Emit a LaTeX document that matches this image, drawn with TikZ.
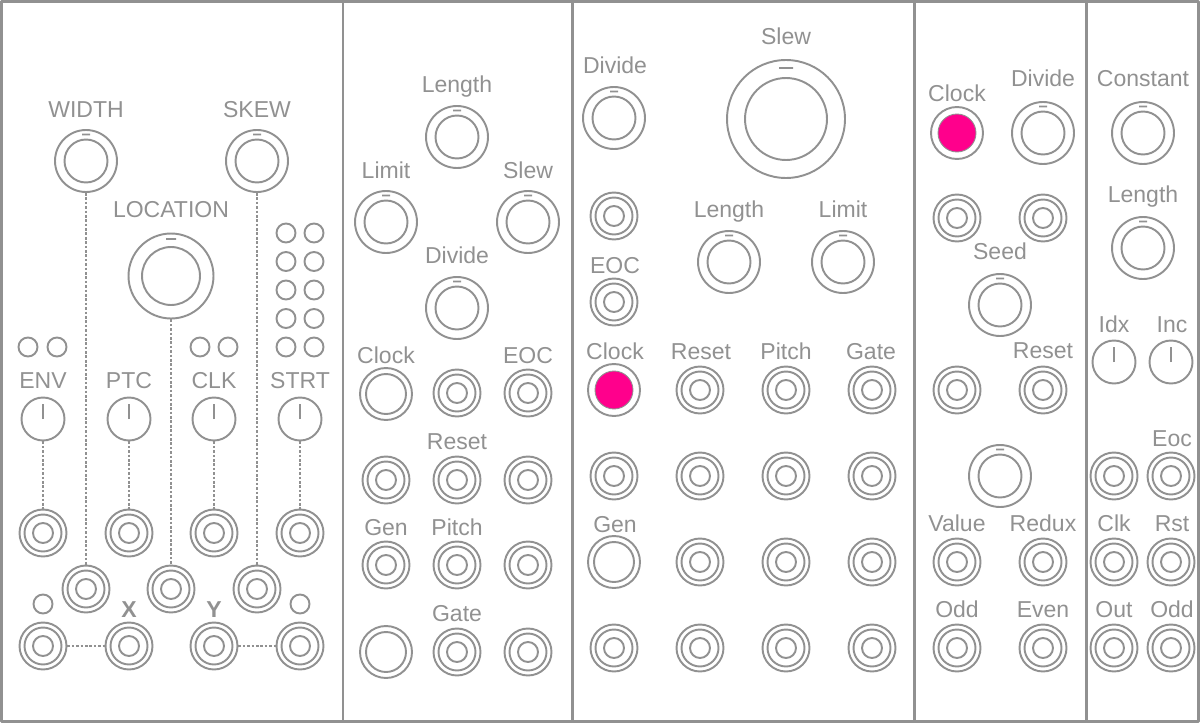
\documentclass[tikz,border=0pt]{standalone}
\usepackage{fontspec}
\setmainfont{Liberation Sans}
\usepackage{xcolor}
\usepackage{tikz}
\definecolor{pgray}{RGB}{145,145,145}
\definecolor{hotpink}{RGB}{255,0,140}
\newcommand{\lblfont}{\fontsize{13.1}{15}\selectfont}

\begin{document}
\begin{tikzpicture}[x=0.02cm,y=-0.02cm,line join=round,
  every node/.style={inner sep=0pt},
  panel/.style={draw=pgray,line width=1.7pt},
  lbl/.style={text=pgray,font=\lblfont,anchor=base},
  wire/.style={draw=pgray,line width=0.7pt,dash pattern=on 1.5pt off 1pt},
  jack/.style={circle,draw=pgray,line width=1.1pt,minimum size=0.94cm,
    path picture={\draw[pgray,line width=1.1pt] (path picture bounding box.center) circle (0.37cm) circle (0.2cm);}},
  port/.style={circle,draw=pgray,line width=1.1pt,minimum size=1.04cm,
    path picture={\draw[pgray,line width=1.1pt] (path picture bounding box.center) circle (0.4cm);}},
  lit/.style={circle,draw=pgray,line width=1.1pt,minimum size=1.04cm,
    path picture={\filldraw[fill=hotpink,draw=pgray,line width=0.5pt] (path picture bounding box.center) circle (0.38cm);}},
  knob/.style={circle,draw=pgray,line width=1.1pt,minimum size=1.24cm,
    path picture={\draw[pgray,line width=1.1pt] (path picture bounding box.center) circle (0.43cm)
      ++(-0.08cm,0.53cm) -- ++(0.16cm,0);}},
  bigknob/.style={circle,draw=pgray,line width=1.1pt,minimum size=1.7cm,
    path picture={\draw[pgray,line width=1.1pt] (path picture bounding box.center) circle (0.58cm)
      ++(-0.1cm,0.74cm) -- ++(0.2cm,0);}},
  hugeknob/.style={circle,draw=pgray,line width=1.1pt,minimum size=2.36cm,
    path picture={\draw[pgray,line width=1.1pt] (path picture bounding box.center) circle (0.82cm)
      ++(-0.14cm,1.02cm) -- ++(0.28cm,0);}},
  trim/.style={circle,draw=pgray,line width=1.1pt,minimum size=0.86cm,
    path picture={\draw[pgray,line width=1.1pt] (path picture bounding box.center) -- ++(0,0.3cm);}},
  led/.style={circle,draw=pgray,line width=1.1pt,minimum size=0.38cm}]
  \useasboundingbox (0,0) rectangle (1200,723);
  % module frames
  \draw[panel] (1.5,1.5) rectangle (343,721.5);
  \draw[panel] (343,1.5) rectangle (572,721.5);
  \draw[panel] (572,1.5) rectangle (914,721.5);
  \draw[panel] (914,1.5) rectangle (1086,721.5);
  \draw[panel] (1086,1.5) rectangle (1198.5,721.5);
  % module 1
  \node[lbl] (tWidth) at (86,117) {WIDTH};
  \node[lbl] (tSkew) at (257,117) {SKEW};
  \node[lbl] (tLocation) at (171,217) {LOCATION};
  \node[knob] (kWidth) at (86,161) {};
  \node[knob] (kSkew) at (257,161) {};
  \node[bigknob] (kLocation) at (171,276) {};
  \node[led] (lEnvA) at (28,347) {};
  \node[led] (lEnvB) at (57,347) {};
  \node[led] (lClkA) at (200,347) {};
  \node[led] (lClkB) at (228,347) {};
  \node[led] (lGridA1) at (286,233) {};
  \node[led] (lGridB1) at (314,233) {};
  \node[led] (lGridA2) at (286,261.5) {};
  \node[led] (lGridB2) at (314,261.5) {};
  \node[led] (lGridA3) at (286,290) {};
  \node[led] (lGridB3) at (314,290) {};
  \node[led] (lGridA4) at (286,318.5) {};
  \node[led] (lGridB4) at (314,318.5) {};
  \node[led] (lGridA5) at (286,347) {};
  \node[led] (lGridB5) at (314,347) {};
  \node[lbl] (tEnv) at (43,388) {ENV};
  \node[lbl] (tPtc) at (129,388) {PTC};
  \node[lbl] (tClk) at (214,388) {CLK};
  \node[lbl] (tStrt) at (300,388) {STRT};
  \node[trim] (tpEnv) at (43,419) {};
  \node[trim] (tpPtc) at (129,419) {};
  \node[trim] (tpClk) at (214,419) {};
  \node[trim] (tpStrt) at (300,419) {};
  \node[jack] (jEnv) at (43,533) {};
  \node[jack] (jPtc) at (129,533) {};
  \node[jack] (jClk) at (214,533) {};
  \node[jack] (jStrt) at (300,533) {};
  \node[jack] (jWidth) at (86,589) {};
  \node[jack] (jLocation) at (171,589) {};
  \node[jack] (jSkew) at (257,589) {};
  \node[led] (lX) at (43,604) {};
  \node[led] (lY) at (300,604) {};
  \node[lbl,font=\lblfont\bfseries] (tX) at (129,617) {X};
  \node[lbl,font=\lblfont\bfseries] (tY) at (214,617) {Y};
  \node[jack] (jXa) at (43,646) {};
  \node[jack] (jXb) at (129,646) {};
  \node[jack] (jYa) at (214,646) {};
  \node[jack] (jYb) at (300,646) {};
  \draw[wire] (kWidth) -- (jWidth);
  \draw[wire] (kLocation) -- (jLocation);
  \draw[wire] (kSkew) -- (jSkew);
  \draw[wire] (tpEnv) -- (jEnv);
  \draw[wire] (tpPtc) -- (jPtc);
  \draw[wire] (tpClk) -- (jClk);
  \draw[wire] (tpStrt) -- (jStrt);
  \draw[wire] (jXa) -- (jXb);
  \draw[wire] (jYa) -- (jYb);
  % module 2
  \node[lbl] (tLengthB) at (457,92) {Length};
  \node[lbl] (tLimitB) at (386,178) {Limit};
  \node[lbl] (tSlewB) at (528,178) {Slew};
  \node[lbl] (tDivideB) at (457,263) {Divide};
  \node[lbl] (tClockB) at (386,363) {Clock};
  \node[lbl] (tEocB) at (528,363) {EOC};
  \node[lbl] (tResetB) at (457,449) {Reset};
  \node[lbl] (tGenB) at (386,535) {Gen};
  \node[lbl] (tPitchB) at (457,535) {Pitch};
  \node[lbl] (tGateB) at (457,621) {Gate};
  \node[knob] (kLengthB) at (457,137) {};
  \node[knob] (kLimitB) at (386,222) {};
  \node[knob] (kSlewB) at (528,222) {};
  \node[knob] (kDivideB) at (457,308) {};
  \node[port] (pClockB) at (386,394) {};
  \node[jack] (jB12) at (457,393) {};
  \node[jack] (jEocB) at (528,393) {};
  \node[jack] (jB21) at (386,480) {};
  \node[jack] (jResetB) at (457,480) {};
  \node[jack] (jB23) at (528,480) {};
  \node[jack] (jGenB) at (386,565) {};
  \node[jack] (jPitchB) at (457,565) {};
  \node[jack] (jB33) at (528,565) {};
  \node[port] (pB41) at (386,652) {};
  \node[jack] (jGateB) at (457,652) {};
  \node[jack] (jB43) at (528,652) {};
  % module 3
  \node[lbl] (tSlewC) at (786,45) {Slew};
  \node[lbl] (tDivideC) at (615,74) {Divide};
  \node[lbl] (tLengthC) at (729,217) {Length};
  \node[lbl] (tLimitC) at (843,217) {Limit};
  \node[lbl] (tEocC) at (615,273) {EOC};
  \node[lbl] (tClockC) at (615,359) {Clock};
  \node[lbl] (tResetC) at (701,359) {Reset};
  \node[lbl] (tPitchC) at (786,359) {Pitch};
  \node[lbl] (tGateC) at (871,359) {Gate};
  \node[lbl] (tGenC) at (615,532) {Gen};
  \node[knob] (kDivideC) at (614,118) {};
  \node[hugeknob] (kSlewC) at (786,119) {};
  \node[knob] (kLengthC) at (729,262) {};
  \node[knob] (kLimitC) at (843,262) {};
  \node[jack] (jC0) at (614,216) {};
  \node[jack] (jEocC) at (614,302) {};
  \node[lit] (pClockC) at (614,390) {};
  \node[jack] (jResetC) at (700,390) {};
  \node[jack] (jPitchC) at (786,390) {};
  \node[jack] (jGateC) at (872,390) {};
  \node[jack] (jC21) at (614,476) {};
  \node[jack] (jC22) at (700,476) {};
  \node[jack] (jC23) at (786,476) {};
  \node[jack] (jC24) at (872,476) {};
  \node[port] (pGenC) at (614,562) {};
  \node[jack] (jC32) at (700,562) {};
  \node[jack] (jC33) at (786,562) {};
  \node[jack] (jC34) at (872,562) {};
  \node[jack] (jC41) at (614,648) {};
  \node[jack] (jC42) at (700,648) {};
  \node[jack] (jC43) at (786,648) {};
  \node[jack] (jC44) at (872,648) {};
  % module 4
  \node[lbl] (tClockD) at (957,102) {Clock};
  \node[lbl] (tDivideD) at (1043,87) {Divide};
  \node[lbl] (tSeedD) at (1000,259) {Seed};
  \node[lbl] (tResetD) at (1043,358) {Reset};
  \node[lbl] (tValueD) at (957,531) {Value};
  \node[lbl] (tReduxD) at (1043,531) {Redux};
  \node[lbl] (tOddD) at (957,617) {Odd};
  \node[lbl] (tEvenD) at (1043,617) {Even};
  \node[lit] (pClockD) at (957,133) {};
  \node[knob] (kDivideD) at (1043,133) {};
  \node[jack] (jD1) at (957,218) {};
  \node[jack] (jD2) at (1043,218) {};
  \node[knob] (kSeedD) at (1000,305) {};
  \node[jack] (jD3) at (957,390) {};
  \node[jack] (jResetD) at (1043,390) {};
  \node[knob] (kD) at (1000,476) {};
  \node[jack] (jValueD) at (957,562) {};
  \node[jack] (jReduxD) at (1043,562) {};
  \node[jack] (jOddD) at (957,648) {};
  \node[jack] (jEvenD) at (1043,648) {};
  % module 5
  \node[lbl] (tConstE) at (1143,87) {Constant};
  \node[lbl] (tLengthE) at (1143,202) {Length};
  \node[lbl] (tIdxE) at (1114,332) {Idx};
  \node[lbl] (tIncE) at (1172,332) {Inc};
  \node[lbl] (tEocE) at (1172,446) {Eoc};
  \node[lbl] (tClkE) at (1114,531) {Clk};
  \node[lbl] (tRstE) at (1172,531) {Rst};
  \node[lbl] (tOutE) at (1114,617) {Out};
  \node[lbl] (tOddE) at (1172,617) {Odd};
  \node[knob] (kConstE) at (1143,133) {};
  \node[knob] (kLengthE) at (1143,248) {};
  \node[trim] (tpIdx) at (1114,362) {};
  \node[trim] (tpInc) at (1171,362) {};
  \node[jack] (jE1) at (1114,476) {};
  \node[jack] (jEocE) at (1171,476) {};
  \node[jack] (jClkE) at (1114,562) {};
  \node[jack] (jRstE) at (1171,562) {};
  \node[jack] (jOutE) at (1114,648) {};
  \node[jack] (jOddE) at (1171,648) {};
\end{tikzpicture}
\end{document}
